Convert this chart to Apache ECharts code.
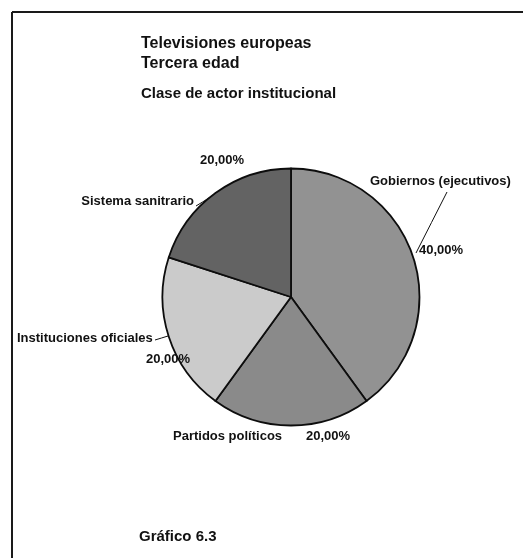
<!DOCTYPE html>
<html>
<head>
<meta charset="utf-8">
<script src="https://cdn.jsdelivr.net/npm/echarts@6/dist/echarts.min.js"></script>
<style>html,body{margin:0;padding:0;background:#fff}#c{width:523px;height:558px}</style>
</head>
<body>
<div id="c"></div>
<script>
const categories = ['Gobiernos (ejecutivos)', 'Partidos políticos', 'Instituciones oficiales', 'Sistema sanitrario'];
const values = [40, 20, 20, 20];
const percentLabels = ['40,00%', '20,00%', '20,00%', '20,00%'];
const sliceColors = ['#929292', '#8a8a8a', '#cbcbcb', '#636363'];
const titleLines = ['Televisiones europeas', 'Tercera edad', 'Clase de actor institucional'];
const footnote = 'Gráfico 6.3';

const FONT = '"Liberation Sans", Arial, sans-serif';
// label placement (layout only)
const namePos = [
  {x: 370, y: 181, align: 'left', line: [[416, 253], [431.5, 222.5], [447, 192]]},
  {x: 173, y: 436, align: 'left', line: null},
  {x: 17, y: 338, align: 'left', line: [[168, 336], [161.5, 338], [155, 340]]},
  {x: 194, y: 201, align: 'right', line: [[209, 198], [202.5, 202], [196, 206]]}
];
const pctPos = [
  {x: 419, y: 250}, {x: 306, y: 436}, {x: 146, y: 359}, {x: 200, y: 160}
];

const chart = echarts.init(document.getElementById('c'));
const center = [291, 297];
const radius = 128.5;

function txt(s, x, y, size) {
  return {type: 'text', x: x, y: y, style: {text: s, font: 'bold ' + size + 'px ' + FONT, fill: '#111', verticalAlign: 'middle', align: 'left'}};
}

chart.setOption({
  backgroundColor: '#fff',
  animation: false,
  graphic: [
    {type: 'line', shape: {x1: 12, y1: 12, x2: 523, y2: 12}, style: {stroke: '#1a1a1a', lineWidth: 2}},
    {type: 'line', shape: {x1: 12, y1: 12, x2: 12, y2: 558}, style: {stroke: '#1a1a1a', lineWidth: 2}},
    txt(titleLines[0], 141, 44, 16),
    txt(titleLines[1], 141, 64, 16),
    txt(titleLines[2], 141, 94, 15),
    txt(footnote, 139, 537, 15)
  ],
  series: [
    {
      type: 'pie',
      center: center,
      radius: radius,
      startAngle: 90,
      clockwise: true,
      silent: true,
      data: categories.map((n, i) => ({
        name: n, value: values[i],
        itemStyle: {color: sliceColors[i]},
        labelLine: {show: !!namePos[i].line}
      })),
      itemStyle: {borderColor: '#0d0d0d', borderWidth: 1.8},
      label: {show: true, position: 'outside', overflow: 'none', formatter: '{b}', fontFamily: FONT, fontWeight: 'bold', fontSize: 13, color: '#111'},
      labelLine: {show: true, smooth: false, lineStyle: {color: '#111', width: 1}},
      labelLayout: function (p) {
        const q = namePos[p.dataIndex];
        const r = {x: q.x, y: q.y, align: q.align, verticalAlign: 'middle', width: 200};
        if (q.line) r.labelLinePoints = q.line;
        return r;
      }
    },
    {
      type: 'pie',
      center: center,
      radius: radius,
      startAngle: 90,
      clockwise: true,
      silent: true,
      data: categories.map((n, i) => ({name: n + ' %', value: values[i]})),
      itemStyle: {color: 'rgba(0,0,0,0)', borderWidth: 0},
      label: {show: true, position: 'outside', overflow: 'none', formatter: p => percentLabels[p.dataIndex], fontFamily: FONT, fontWeight: 'bold', fontSize: 13, color: '#111'},
      labelLine: {show: false},
      labelLayout: function (p) {
        const q = pctPos[p.dataIndex];
        return {x: q.x, y: q.y, align: 'left', verticalAlign: 'middle'};
      }
    }
  ]
});
</script>
</body>
</html>
